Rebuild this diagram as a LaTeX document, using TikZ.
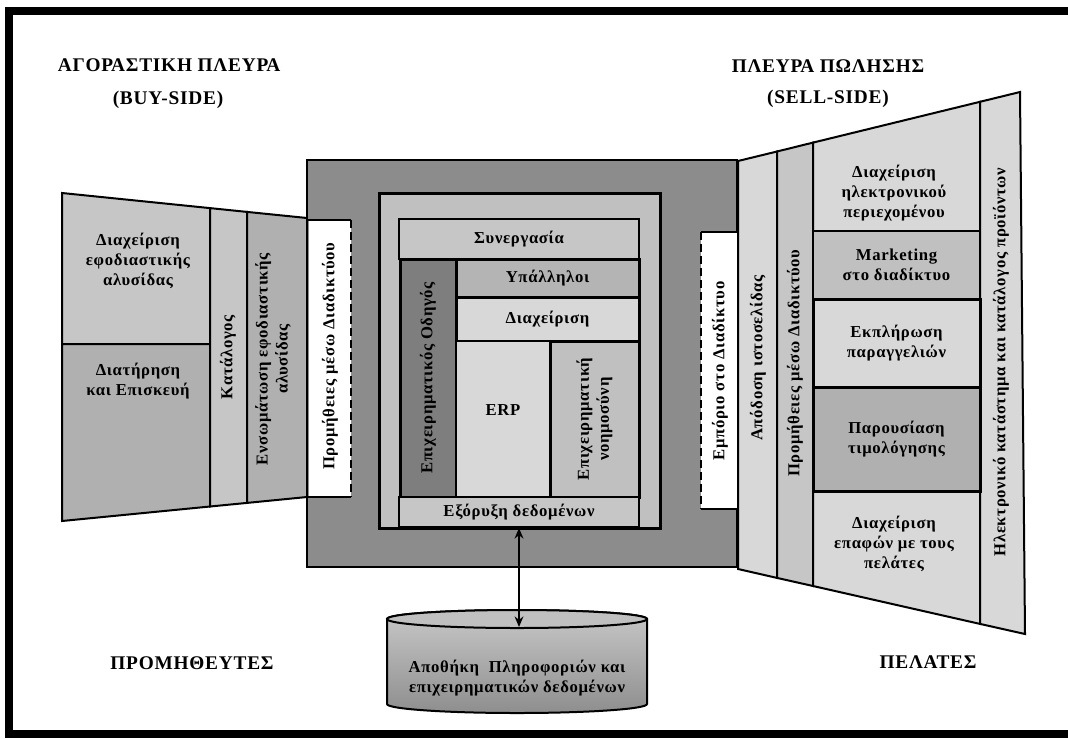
\documentclass[tikz,border=0pt]{standalone}
\usepackage{fontspec}
\setmainfont{Liberation Serif}[LetterSpace=4]
\usetikzlibrary{arrows.meta}
\newlength\pxu
\setlength\pxu{0.02cm}
\newcommand\bodyfont{\fontsize{9.5}{11.4}\selectfont\bfseries}
\newcommand\headfont{\fontsize{11}{13}\selectfont\bfseries}
\definecolor{boxdark}{HTML}{8C8C8C}
\definecolor{boxmid}{HTML}{C0C0C0}
\definecolor{guidefill}{HTML}{7E7E7E}
\definecolor{stafffill}{HTML}{B4B4B4}
\definecolor{panellight}{HTML}{D8D8D8}
\definecolor{panelmid}{HTML}{C6C6C6}
\definecolor{paneldark}{HTML}{B0B0B0}
\definecolor{cyltop}{HTML}{C8C8C8}
\definecolor{cylbot}{HTML}{8E8E8E}
\begin{document}
\begin{tikzpicture}[x=1\pxu,y=-1\pxu,
    band/.style={draw, line width=2\pxu},
    cell/.style={draw, line width=2\pxu, inner sep=0pt, align=center, font=\bodyfont},
    heavy/.style={line width=3\pxu},
    lbl/.style={inner sep=0pt, align=center, font=\bodyfont},
    head/.style={inner sep=0pt, font=\headfont}]
  \useasboundingbox (0,0) rectangle (1068,738);
  \draw[line width=8\pxu] (1080,11) -- (9,11) -- (9,734) -- (1080,734);

  \node[head] (buyhead) at (169,65) {ΑΓΟΡΑΣΤΙΚΗ ΠΛΕΥΡΑ};
  \node[head] (buytag) at (168,100) {(BUY-SIDE)};
  \node[head] (sellhead) at (828,66) {ΠΛΕΥΡΑ ΠΩΛΗΣΗΣ};
  \node[head] (selltag) at (828,99) {(SELL-SIDE)};
  \node[head] (suppliers) at (192,663) {ΠΡΟΜΗΘΕΥΤΕΣ};
  \node[head] (customers) at (928,662) {ΠΕΛΑΤΕΣ};

  % buy side
  \filldraw[band, fill=panelmid] (62,193) -- (210,208.1) -- (210,344) -- (62,344) -- cycle;
  \filldraw[band, fill=paneldark] (62,344) -- (210,344) -- (210,506.5) -- (62,521) -- cycle;
  \filldraw[band, fill=panelmid] (210,208.1) -- (247,211.9) -- (247,502.9) -- (210,506.5) -- cycle;
  \filldraw[band, fill=paneldark] (247,211.9) -- (307,218) -- (307,497) -- (247,502.9) -- cycle;
  \node[lbl] (scm) at (138,261) {Διαχείριση\\εφοδιαστικής\\αλυσίδας};
  \node[lbl] (repair) at (138,381) {Διατήρηση\\και Επισκευή};
  \node[lbl, rotate=90] (catalog) at (228,357) {Κατάλογος};
  \node[lbl, rotate=90] (integr) at (273,359) {Ενσωμάτωση εφοδιαστικής\\αλυσίδας};

  % sell side
  \filldraw[band, fill=panellight] (738,161) -- (777,151.5) -- (777,577.9) -- (738,569) -- cycle;
  \filldraw[band, fill=panelmid] (777,151.5) -- (813,142.6) -- (813,586) -- (777,577.9) -- cycle;
  \filldraw[band, fill=panellight] (813,142.6) -- (980,101.8) -- (980,231) -- (813,231) -- cycle;
  \filldraw[band, fill=panellight] (813,491) -- (980,491) -- (980,623.9) -- (813,586) -- cycle;
  \filldraw[band, fill=panellight] (980,101.8) -- (1020,92) -- (1025,634) -- (980,623.9) -- cycle;
  \node[cell, fill=boxmid, minimum width=167\pxu, minimum height=68\pxu] (market) at (896.5,265) {Marketing\\στο διαδίκτυο};
  \node[cell, heavy, fill=panellight, minimum width=167\pxu, minimum height=88\pxu] (orders) at (896.5,343) {Εκπλήρωση\\παραγγελιών};
  \node[cell, heavy, fill=paneldark, minimum width=167\pxu, minimum height=104\pxu] (pricing) at (896.5,439) {Παρουσίαση\\τιμολόγησης};
  \node[lbl] (content) at (894,193) {Διαχείριση\\ηλεκτρονικού\\περιεχομένου};
  \node[lbl] (crm) at (894,544) {Διαχείριση\\επαφών με τους\\πελάτες};
  \node[lbl, rotate=90] (webperf) at (758,358) {Απόδοση ιστοσελίδας};
  \node[lbl, rotate=90] (sellproc) at (795,363) {Προμήθειες μέσω Διαδικτύου};
  \node[lbl, rotate=90] (eshop) at (1001,362) {Ηλεκτρονικό κατάστημα και κατάλογος προϊόντων};

  % enterprise
  \node[cell, fill=boxdark, minimum width=430\pxu, minimum height=407\pxu] (firm) at (522,363.5) {};
  \fill[white] (309,220) rectangle (351,497);
  \draw[line width=2\pxu] (307,220) -- (351,220) (307,497) -- (351,497);
  \draw[line width=2\pxu, dash pattern=on 8\pxu off 4\pxu] (351,220) -- (351,497);
  \node[lbl, rotate=90] (buyweb) at (330,356) {Προμήθειες μέσω Διαδικτύου};
  \fill[white] (701,232) rectangle (737,509);
  \draw[line width=2\pxu] (701,232) -- (737,232) (701,509) -- (737,509);
  \draw[line width=2\pxu, dash pattern=on 8\pxu off 4\pxu] (701,232) -- (701,509);
  \node[lbl, rotate=90] (ecommerce) at (720,371) {Εμπόριο στο Διαδίκτυο};

  \node[cell, heavy, fill=boxmid, minimum width=281\pxu, minimum height=335\pxu] (core) at (519.5,360.5) {};
  \node[cell, fill=panelmid, minimum width=240\pxu, minimum height=40\pxu] (cowork) at (519,239) {Συνεργασία};
  \node[cell, heavy, fill=guidefill, minimum width=238\pxu, minimum height=56\pxu, rotate=90] (guide) at (428,378) {Επιχειρηματικός Οδηγός};
  \node[cell, heavy, fill=stafffill, minimum width=183\pxu, minimum height=38\pxu] (staff) at (547.5,278) {Υπάλληλοι};
  \node[cell, heavy, fill=panellight, minimum width=183\pxu, minimum height=44\pxu] (mgmt) at (547.5,319) {Διαχείριση};
  \node[cell, fill=panellight, minimum width=94\pxu, minimum height=156\pxu] (erp) at (503,419) {};
  \node[lbl] (erptext) at (503,410) {ERP};
  \node[cell, heavy, fill=boxmid, minimum width=156\pxu, minimum height=89\pxu, rotate=90] (bi) at (594.5,419) {Επιχειρηματική\\νοημοσύνη};
  \node[cell, fill=panelmid, minimum width=240\pxu, minimum height=30\pxu] (mining) at (519,512) {Εξόρυξη δεδομένων};

  % warehouse
  \shade[top color=cyltop, bottom color=cylbot, draw, line width=2\pxu]
    (387,619) -- (387,704) arc (180:0:130 and 9) -- (647,619) arc (0:-180:130 and 9) -- cycle;
  \filldraw[fill=boxmid, line width=2\pxu] (517,619) ellipse (130 and 9);
  \node[lbl] (store) at (517,678) {Αποθήκη\ \ Πληροφοριών και\\επιχειρηματικών δεδομένων};
  \coordinate (storetop) at (519,627);
  \draw[line width=1pt, {Stealth[length=6pt,width=5pt]}-{Stealth[length=6pt,width=5pt]}] (storetop) -- (mining.south);
\end{tikzpicture}
\end{document}
